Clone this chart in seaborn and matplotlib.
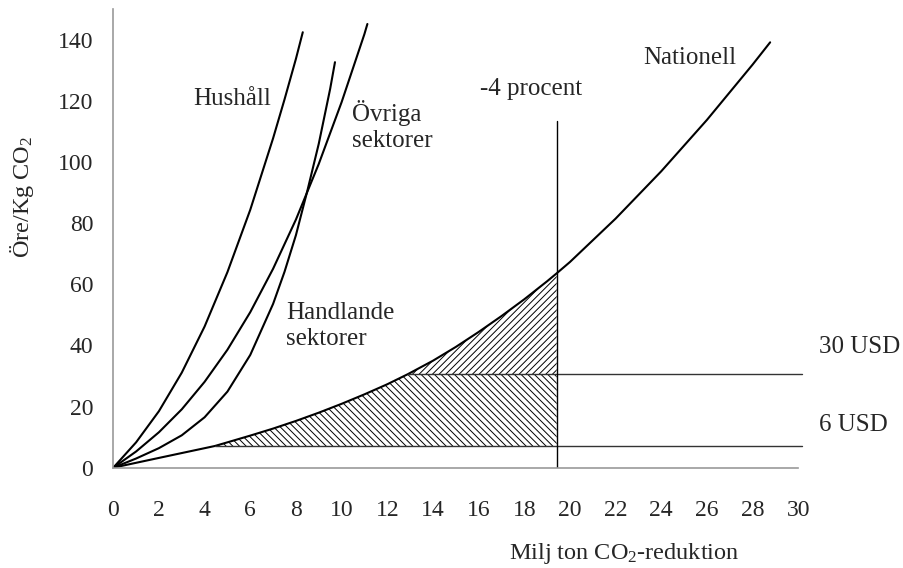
import numpy as np
import matplotlib
matplotlib.use("Agg")
import matplotlib.pyplot as plt
import seaborn as sns

# values
hushall_x = [0, 1, 2, 3, 4, 5, 6, 7, 7.5, 8, 8.3]
hushall_y = [0, 8.3, 18.5, 31.1, 46.2, 64.0, 84.4, 107.8, 120.5, 133.8, 142.5]

ovriga_x = [0, 1, 2, 3, 4, 5, 6, 7, 8, 9, 10, 11, 11.13]
ovriga_y = [0, 5.3, 11.6, 19.1, 28.1, 38.6, 50.9, 65.1, 81.2, 99.4, 119.6, 141.9, 145.2]

handlande_x = [0, 1, 2, 3, 4, 5, 6, 7, 7.5, 8, 8.5, 9, 9.5, 9.71]
handlande_y = [0, 3.0, 6.4, 10.6, 16.5, 24.9, 36.9, 53.6, 64.1, 76.1, 90.6, 106.0, 124.0, 132.7]

nationell_x = [0, 2, 4.45, 5, 6, 7, 8, 9, 10, 11, 12, 12.9, 14, 15, 16, 17, 18, 19,
               19.42, 20, 22, 24, 26, 28, 28.77]
nationell_y = [0, 3.2, 7.1, 8.3, 10.5, 12.8, 15.3, 18.0, 20.9, 24.0, 27.3, 30.6, 35.0,
               39.5, 44.4, 49.6, 55.1, 61.0, 63.6, 67.3, 81.5, 97.0, 113.8, 131.9, 139.2]

usd6 = 7.1
usd30 = 30.6
usd6_start = 4.45
usd30_start = 12.9
procent_x = 19.42
procent_top = 113.5
line_end = 30.15

xticks = list(range(0, 31, 2))
yticks = list(range(0, 141, 20))

sns.set_style("white")
plt.rcParams["font.family"] = ["Liberation Serif", "DejaVu Serif"]
plt.rcParams["mathtext.fontset"] = "custom"
plt.rcParams["mathtext.rm"] = "Liberation Serif"
plt.rcParams["mathtext.it"] = "Liberation Serif:italic"
plt.rcParams["hatch.linewidth"] = 0.7

fig = plt.figure(figsize=(9.04, 5.68), dpi=100)
ax = fig.add_axes([0.1253, 0.1766, 0.7577, 0.807])

for xs, ys in [(hushall_x, hushall_y), (ovriga_x, ovriga_y),
               (handlande_x, handlande_y), (nationell_x, nationell_y)]:
    sns.lineplot(x=xs, y=ys, color="black", lw=1.5, ax=ax, sort=False)

# hatched areas under the national curve
nx = np.array(nationell_x)
ny = np.array(nationell_y)
m = (nx >= usd6_start) & (nx <= procent_x)
ax.fill_between(nx[m], usd6, np.minimum(ny[m], usd30), facecolor="none",
                edgecolor="black", hatch="\\\\\\\\\\", linewidth=0)
m2 = (nx >= usd30_start) & (nx <= procent_x)
ax.fill_between(nx[m2], usd30, ny[m2], facecolor="none",
                edgecolor="black", hatch="/////", linewidth=0)

ax.plot([usd6_start, line_end], [usd6, usd6], color="#333333", lw=1.0, clip_on=False)
ax.plot([usd30_start, line_end], [usd30, usd30], color="#333333", lw=1.0, clip_on=False)
ax.plot([procent_x, procent_x], [0, procent_top], color="black", lw=1.0)

ax.set_xlim(0, 30)
ax.set_ylim(0, 150)
ax.set_xticks(xticks)
ax.set_yticks(yticks)
ax.tick_params(axis="x", direction="out", length=6.5, width=1.2, color="#999999",
               pad=17, labelsize=17)
ax.tick_params(axis="y", direction="out", length=6.5, width=1.2, color="#999999",
               pad=8, labelsize=17)
for s in ["top", "right"]:
    ax.spines[s].set_visible(False)
for s in ["left", "bottom"]:
    ax.spines[s].set_color("#999999")
    ax.spines[s].set_linewidth(1.2)

fs = 18
ax.text(3.5, 120.5, "Hushåll", fontsize=fs, ha="left", va="center")
ax.text(10.44, 111.7, "Övriga\nsektorer", fontsize=fs, ha="left", va="center", linespacing=1.25)
ax.text(7.56, 46.3, "Handlande\nsektorer", fontsize=fs, ha="left", va="center", linespacing=1.25)
ax.text(16.06, 124, "-4 procent", fontsize=fs, ha="left", va="center")
ax.text(23.19, 134.1, "Nationell", fontsize=fs, ha="left", va="center")
ax.text(30.92, 39.5, "30 USD", fontsize=fs, ha="left", va="center")
ax.text(30.92, 14, "6 USD", fontsize=fs, ha="left", va="center")

fig.text(22 / 904, 1 - 197 / 568, "Öre/Kg CO$_2$", fontsize=17.5, rotation=90,
         ha="center", va="center")
fig.text(624 / 904, 1 - 553 / 568, "Milj ton CO$_2$-reduktion", fontsize=17.5,
         ha="center", va="center")

fig.savefig("out.png", dpi=100)
